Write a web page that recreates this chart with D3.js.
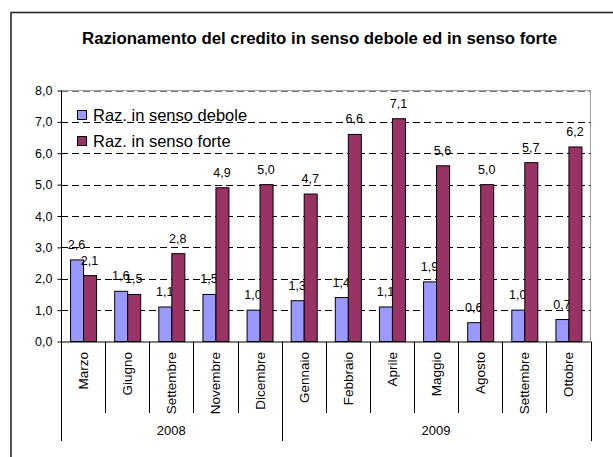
<!DOCTYPE html>
<html>
<head>
<meta charset="utf-8">
<script src="https://d3js.org/d3.v7.min.js"></script>
<style>
  body { margin: 0; background: #fff; }
  svg { display: block; font-family: Arial, 'Liberation Sans', sans-serif; }
</style>
</head>
<body>
<svg width="613" height="457"></svg>
<script>
// data
var months = ["Marzo", "Giugno", "Settembre", "Novembre", "Dicembre",
              "Gennaio", "Febbraio", "Aprile", "Maggio", "Agosto", "Settembre", "Ottobre"];
var years = ["2008", "2009"];
var yearCounts = [5, 7];
var debole = [2.6, 1.6, 1.1, 1.5, 1.0, 1.3, 1.4, 1.1, 1.9, 0.6, 1.0, 0.7];
var forte  = [2.1, 1.5, 2.8, 4.9, 5.0, 4.7, 6.6, 7.1, 5.6, 5.0, 5.7, 6.2];
var seriesNames = ["Raz. in senso debole", "Raz. in senso forte"];
var yTicks = [0, 1, 2, 3, 4, 5, 6, 7, 8];

var colors = ["#9999ff", "#993366"];

var svg = d3.select("svg");

// outer chart frame
svg.append("rect")
    .attr("x", 11).attr("y", 12.5)
    .attr("width", 700).attr("height", 600)
    .attr("fill", "none").attr("stroke", "#2a2a2a").attr("stroke-width", 1.6);

svg.append("text")
    .attr("x", 319.5).attr("y", 44)
    .attr("text-anchor", "middle")
    .attr("textLength", 475).attr("lengthAdjust", "spacingAndGlyphs")
    .style("font-size", "16px").style("font-weight", "bold")
    .text("Razionamento del credito in senso debole ed in senso forte");

var pLeft = 61, pRight = 590.5, pTop = 90.5, pBottom = 341.5;

var x = d3.scaleBand().domain(d3.range(months.length)).range([pLeft, pRight]);
var y = d3.scaleLinear().domain([0, 8]).range([pBottom, pTop]);
var barW = 13;

var fmt = function(v) { return d3.format(".1f")(v).replace(".", ","); };

// plot area border (top + right, gray)
svg.append("path")
    .attr("d", "M" + pLeft + "," + pTop + "H" + pRight + "V" + pBottom)
    .attr("fill", "none").attr("stroke", "#a0a0a0").attr("stroke-width", 1);

// gridlines
svg.append("g")
    .selectAll("line")
    .data(yTicks.filter(function(d) { return d > 0; }))
    .enter().append("line")
    .attr("x1", pLeft).attr("x2", pRight)
    .attr("y1", function(d) { return Math.round(y(d)) + 0.5; })
    .attr("y2", function(d) { return Math.round(y(d)) + 0.5; })
    .attr("stroke", function(d) { return d === 8 ? "#777" : "#000"; })
    .attr("stroke-dasharray", "7,4");

// bars
var groups = [debole, forte];
groups.forEach(function(vals, si) {
    var g = svg.append("g");
    g.selectAll("rect").data(vals).enter().append("rect")
        .attr("x", function(d, i) { return x(i) + x.bandwidth() / 2 - barW + si * barW + 0.5; })
        .attr("y", function(d) { return y(d); })
        .attr("width", barW)
        .attr("height", function(d) { return pBottom - y(d); })
        .attr("fill", colors[si])
        .attr("stroke", "#000").attr("stroke-width", 1);
    g.selectAll("text").data(vals).enter().append("text")
        .attr("x", function(d, i) { return x(i) + x.bandwidth() / 2 - barW / 2 + si * barW; })
        .attr("y", function(d) { return y(d) - 11; })
        .attr("text-anchor", "middle")
        .style("font-size", "12.5px").attr("fill", "#000")
        .text(function(d) { return fmt(d); });
});

// y axis
var yAxis = d3.axisLeft(y).tickValues(yTicks).tickSize(4).tickPadding(5).tickFormat(fmt);
var ya = svg.append("g").attr("transform", "translate(" + (pLeft + 0.5) + ",0)").call(yAxis);
ya.select(".domain").remove();
ya.selectAll("text").style("font-size", "12.5px").attr("fill", "#000").style("font-family", "Arial, 'Liberation Sans', sans-serif");
ya.selectAll("line").attr("stroke", "#000");

svg.append("line")
    .attr("x1", pLeft + 0.5).attr("x2", pLeft + 0.5)
    .attr("y1", pTop).attr("y2", 441)
    .attr("stroke", "#000");
svg.append("line")
    .attr("x1", pLeft).attr("x2", pRight)
    .attr("y1", pBottom + 0.5).attr("y2", pBottom + 0.5)
    .attr("stroke", "#000");

// category separators and labels
svg.append("g").selectAll("line")
    .data(d3.range(1, months.length))
    .enter().append("line")
    .attr("x1", function(i) { return Math.round(x(i)) + 0.5; })
    .attr("x2", function(i) { return Math.round(x(i)) + 0.5; })
    .attr("y1", pBottom).attr("y2", 413)
    .attr("stroke", "#000");

svg.append("g").selectAll("text")
    .data(months)
    .enter().append("text")
    .attr("transform", function(d, i) {
        return "translate(" + (x(i) + x.bandwidth() / 2 + 5) + ",352) rotate(-90)";
    })
    .attr("text-anchor", "end")
    .style("font-size", "13.5px")
    .text(function(d) { return d; });

// year level
var start = 0;
years.forEach(function(yr, k) {
    var x0 = x(start), x1 = x(start + yearCounts[k] - 1) + x.step();
    svg.append("line")
        .attr("x1", Math.round(x1) + 0.5).attr("x2", Math.round(x1) + 0.5)
        .attr("y1", pBottom).attr("y2", 441)
        .attr("stroke", "#000");
    svg.append("text")
        .attr("x", (x0 + x1) / 2).attr("y", 435)
        .attr("text-anchor", "middle")
        .style("font-size", "13px")
        .text(yr);
    start += yearCounts[k];
});

// legend
var leg = svg.append("g");
seriesNames.forEach(function(name, i) {
    var ly = 115 + i * 26;
    leg.append("rect")
        .attr("x", 77.5).attr("y", ly - 4.5)
        .attr("width", 9).attr("height", 9)
        .attr("fill", colors[i]).attr("stroke", "#000");
    leg.append("text")
        .attr("x", 93).attr("y", ly + 6)
        .style("font-size", "16.5px")
        .text(name);
});
</script>
</body>
</html>
